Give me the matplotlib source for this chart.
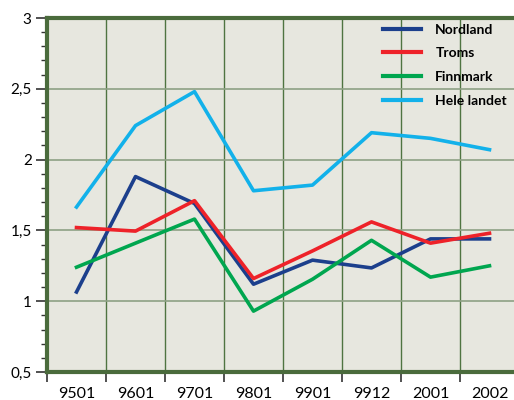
import matplotlib
matplotlib.use('Agg')

import numpy as np
import matplotlib.pyplot as plt
from matplotlib.ticker import MultipleLocator, FixedLocator, FuncFormatter

# ==========================================
# DATA
# ==========================================

periods = ["9501", "9601", "9701", "9801", "9901", "9912", "2001", "2002"]

nordland = [1.065, 1.88, 1.69, 1.12, 1.29, 1.235, 1.44, 1.44]
troms = [1.52, 1.495, 1.71, 1.16, 1.355, 1.56, 1.41, 1.48]
finnmark = [1.24, 1.41, 1.58, 0.93, 1.155, 1.43, 1.17, 1.25]
hele_landet = [1.665, 2.24, 2.48, 1.78, 1.82, 2.19, 2.15, 2.07]

# ==========================================
# FIGURE
# ==========================================

plt.rcParams['font.family'] = ['Lato', 'DejaVu Sans']

fig = plt.figure(figsize=(5.14, 4.0), dpi=100)
ax = fig.add_axes([47/514, 28/400, 472/514, 354/400])
ax.set_facecolor("#e7e7df")

x = np.arange(len(periods))

ax.plot(x, nordland, color="#1c3f8c", linewidth=2.6, label="Nordland")
ax.plot(x, troms, color="#ee2229", linewidth=2.6, label="Troms")
ax.plot(x, finnmark, color="#00a64f", linewidth=2.6, label="Finnmark")
ax.plot(x, hele_landet, color="#12b1ea", linewidth=2.6, label="Hele landet")

# ==========================================
# AXES
# ==========================================

ax.set_xlim(-0.5, len(periods) - 0.5)
ax.set_ylim(0.5, 3)

ax.set_xticks(x)
ax.set_xticklabels(periods, fontsize=11.5)
ax.xaxis.set_minor_locator(FixedLocator(np.arange(-0.5, len(periods), 1.0)))
ax.tick_params(axis="x", which="major", length=0, pad=11)
ax.tick_params(axis="x", which="minor", length=7, width=1.2, color="#333333")

ax.yaxis.set_major_locator(MultipleLocator(0.5))
ax.yaxis.set_minor_locator(MultipleLocator(0.1))
ax.yaxis.set_major_formatter(FuncFormatter(lambda v, p: ("%g" % v).replace(".", ",")))
ax.tick_params(axis="y", which="major", length=8, width=1.2, color="#333333", labelsize=11, pad=3)
ax.tick_params(axis="y", which="minor", length=4, width=1.0, color="#333333")

ax.grid(True, axis="y", which="major", color="#8ea184", linewidth=1.2)
ax.grid(True, axis="x", which="minor", color="#4f7441", linewidth=1.0)

for side in ["left", "top", "bottom"]:
    ax.spines[side].set_color("#4a6b3c")
    ax.spines[side].set_linewidth(3)
ax.spines["right"].set_visible(False)

# ==========================================
# LEGEND
# ==========================================

leg = ax.legend(
    loc="upper left",
    bbox_to_anchor=(370/514, 1 - 11/400),
    bbox_transform=fig.transFigure,
    frameon=False,
    prop={"weight": "bold", "size": 10},
    handlelength=2.8,
    handletextpad=1.0,
    labelspacing=0.85,
)
for line in leg.get_lines():
    line.set_linewidth(3)

fig.savefig("out.png", dpi=100)
